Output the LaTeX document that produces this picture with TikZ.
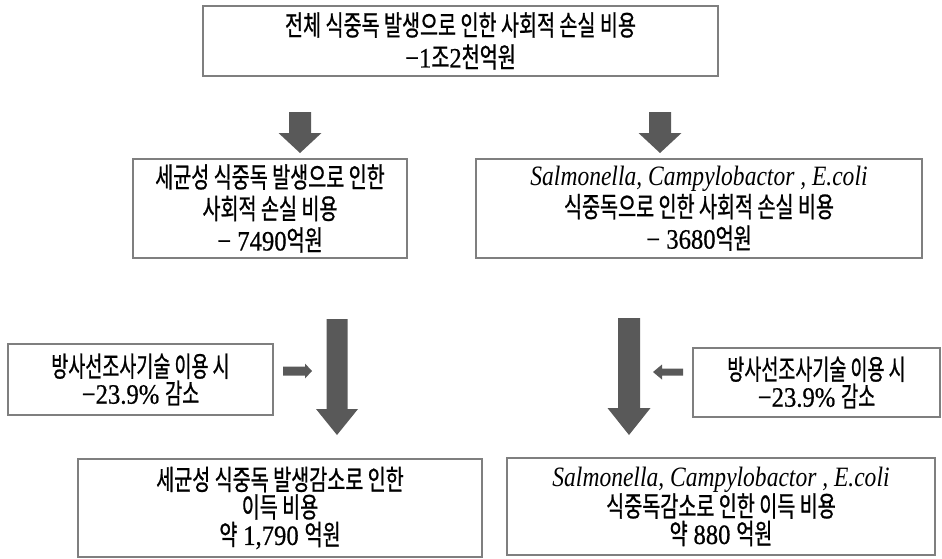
\documentclass[tikz,border=0pt]{standalone}
\usepackage{fontspec}
\setmainfont{Liberation Serif}[FakeStretch=0.84]
\newfontfamily\numf{Liberation Serif}[FakeStretch=0.88, FakeBold=0.6]
\newfontfamily\kr{Noto Sans CJK KR}[FakeStretch=0.70, FakeBold=0.8]
\newfontfamily\krw{Noto Sans CJK KR}[FakeStretch=0.66, FakeBold=0.8]
\newcommand\kor[1]{{\kr #1}}
\newcommand\korw[1]{{\krw #1}}
\newcommand\nm[1]{{\numf #1}}
\definecolor{boxgray}{HTML}{7F7F7F}
\definecolor{arrowfill}{HTML}{595959}
% block arrow pointing down: x, top, head start, tip, half shaft, half head
\newcommand\blkdown[6]{%
  \fill[arrowfill] (#1-#5,#2) -- (#1+#5,#2) -- (#1+#5,#3) -- (#1+#6,#3)
    -- (#1,#4) -- (#1-#6,#3) -- (#1-#5,#3) -- cycle;}
% block arrow pointing sideways: y, tail, head start, tip, half shaft, half head
\newcommand\blkside[6]{%
  \fill[arrowfill] (#2,#1-#5) -- (#3,#1-#5) -- (#3,#1-#6) -- (#4,#1)
    -- (#3,#1+#6) -- (#3,#1+#5) -- (#2,#1+#5) -- cycle;}
\begin{document}
\begin{tikzpicture}[x=1pt,y=-1pt,
  box/.style={draw=boxgray, line width=1.3pt, fill=white, inner sep=0pt,
    align=center, text=black},
  fs/.style={font=\fontsize{28}{#1}\selectfont}]
\useasboundingbox (0,0) rectangle (942,558);

% top box
\node[box, fs=32, minimum width=515pt, minimum height=70pt] (total) at (460.5,41)
  {\kor{전체 식중독 발생으로 인한 사회적 손실 비용}\\
   \nm{−1}\kor{조}\nm{2}\kor{천억원}};

% second row
\node[box, fs=31.5, minimum width=274pt, minimum height=99pt] (bact) at (270,208.5)
  {\kor{세균성 식중독 발생으로 인한}\\
   \kor{사회적 손실 비용}\\
   \nm{− 7490}\kor{억원}};
\node[box, fs=31.5, minimum width=446pt, minimum height=99pt] (path) at (699,208.5)
  {\textit{Salmonella, Campylobactor , E.coli}\\
   \kor{식중독으로 인한 사회적 손실 비용}\\
   \nm{− 3680}\kor{억원}};

% irradiation boxes
\node[box, fs=27, minimum width=265pt, minimum height=71pt] (irrL) at (140.5,379.5)
  {\korw{방사선조사기술 이용 시}\\
   \nm{−23.9\%} \korw{감소}};
\node[box, fs=27, minimum width=247pt, minimum height=69pt] (irrR) at (816.5,382.5)
  {\korw{방사선조사기술 이용 시}\\
   \nm{−23.9\%} \korw{감소}};

% bottom boxes
\node[box, fs=27.5, minimum width=404pt, minimum height=98pt] (gainL) at (280,508)
  {\kor{세균성 식중독 발생감소로 인한}\\
   \kor{이득 비용}\\
   \kor{약} \nm{1,790} \kor{억원}};
\node[box, fs=27.5, minimum width=428pt, minimum height=97pt] (gainR) at (721,506.5)
  {\textit{Salmonella, Campylobactor , E.coli}\\
   \kor{식중독감소로 인한 이득 비용}\\
   \kor{약} \nm{880} \kor{억원}};

% arrows
\blkdown{300}{112}{133}{153}{11}{21.5}
\blkdown{660}{112}{133}{153}{11}{21.5}
\blkdown{337}{319}{409}{435}{10.5}{21}
\blkdown{629}{318}{408}{435}{11}{21.5}
\blkside{371}{283}{305}{312}{4.5}{7.5}
\blkside{372}{683}{662}{653}{3.5}{7.5}
\end{tikzpicture}
\end{document}
